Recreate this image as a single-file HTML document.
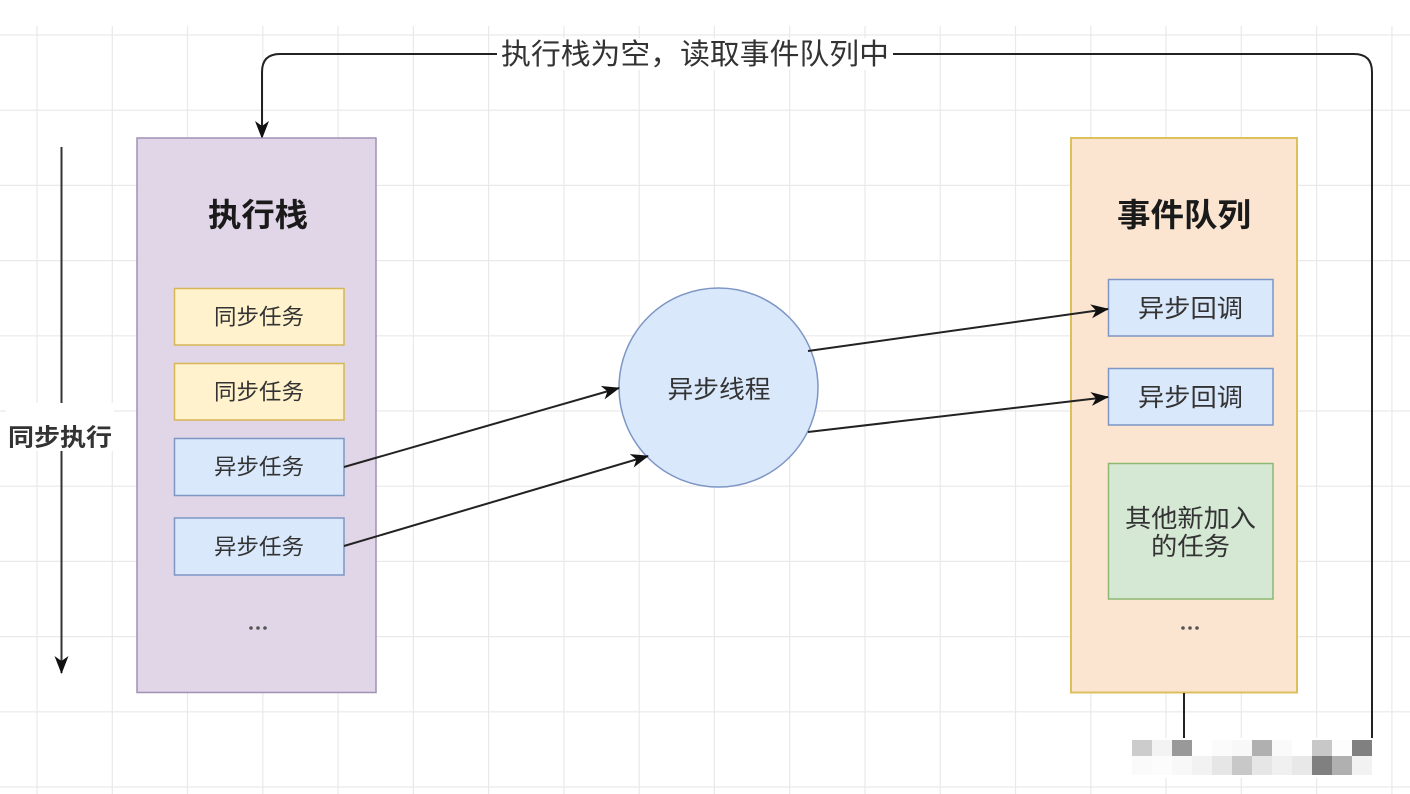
<!DOCTYPE html>
<html>
<head>
<meta charset="utf-8">
<style>
html,body{margin:0;padding:0;background:#fff;}
svg{display:block;}
text{font-family:"Liberation Sans","Noto Sans CJK SC","WenQuanYi Zen Hei",sans-serif;}
</style>
</head>
<body>
<svg width="1410" height="794" viewBox="0 0 1410 794" xmlns="http://www.w3.org/2000/svg">
<defs>
<marker id="ah" markerWidth="18" markerHeight="14" refX="17" refY="7" orient="auto" markerUnits="userSpaceOnUse">
<path d="M0,0 L18,7 L0,14 L5,7 Z" fill="#111"/>
</marker>
</defs>
<rect x="0" y="0" width="1410" height="794" fill="#fff"/>
<!-- grid -->
<g stroke="#e9e9e9" stroke-width="1.2">
<line x1="37" y1="26" x2="37" y2="794"/>
<line x1="112.3" y1="26" x2="112.3" y2="794"/>
<line x1="187.5" y1="26" x2="187.5" y2="794"/>
<line x1="262.8" y1="26" x2="262.8" y2="794"/>
<line x1="338.1" y1="26" x2="338.1" y2="794"/>
<line x1="413.4" y1="26" x2="413.4" y2="794"/>
<line x1="488.6" y1="26" x2="488.6" y2="794"/>
<line x1="563.9" y1="26" x2="563.9" y2="794"/>
<line x1="639.2" y1="26" x2="639.2" y2="794"/>
<line x1="714.4" y1="26" x2="714.4" y2="794"/>
<line x1="789.7" y1="26" x2="789.7" y2="794"/>
<line x1="865" y1="26" x2="865" y2="794"/>
<line x1="940.2" y1="26" x2="940.2" y2="794"/>
<line x1="1015.5" y1="26" x2="1015.5" y2="794"/>
<line x1="1090.8" y1="26" x2="1090.8" y2="794"/>
<line x1="1166" y1="26" x2="1166" y2="794"/>
<line x1="1241.3" y1="26" x2="1241.3" y2="794"/>
<line x1="1316.6" y1="26" x2="1316.6" y2="794"/>
<line x1="1391.9" y1="26" x2="1391.9" y2="794"/>
<line x1="0" y1="35" x2="1410" y2="35"/>
<line x1="0" y1="110.2" x2="1410" y2="110.2"/>
<line x1="0" y1="185.4" x2="1410" y2="185.4"/>
<line x1="0" y1="260.6" x2="1410" y2="260.6"/>
<line x1="0" y1="335.8" x2="1410" y2="335.8"/>
<line x1="0" y1="411" x2="1410" y2="411"/>
<line x1="0" y1="486.2" x2="1410" y2="486.2"/>
<line x1="0" y1="561.4" x2="1410" y2="561.4"/>
<line x1="0" y1="636.6" x2="1410" y2="636.6"/>
<line x1="0" y1="711.8" x2="1410" y2="711.8"/>
<line x1="0" y1="787" x2="1410" y2="787"/>
</g>

<!-- loop connector -->
<path d="M1372,745 L1372,72 Q1372,54 1354,54 L280,54 Q262,54 262,72 L262,138" fill="none" stroke="#222" stroke-width="2" marker-end="url(#ah)"/>
<rect x="497" y="38" width="396" height="32" fill="#fff"/>
<text x="695" y="55" font-size="29" fill="#333" text-anchor="middle" dominant-baseline="central" textLength="388" lengthAdjust="spacingAndGlyphs">执行栈为空，读取事件队列中</text>

<!-- sync execution arrow -->
<line x1="61.5" y1="147" x2="61.5" y2="673" stroke="#333" stroke-width="2" marker-end="url(#ah)"/>
<rect x="6" y="403" width="108" height="48" fill="#fff"/>
<text x="60" y="438" font-size="24" font-weight="bold" fill="#333" text-anchor="middle" dominant-baseline="central" textLength="104" lengthAdjust="spacingAndGlyphs">同步执行</text>

<!-- execution stack -->
<rect x="137" y="138" width="239" height="554.5" fill="#e0d6e7" stroke="#a291b6" stroke-width="1.5"/>
<text x="258" y="215" font-size="32" font-weight="bold" fill="#1a1a1a" text-anchor="middle" dominant-baseline="central" textLength="100" lengthAdjust="spacingAndGlyphs">执行栈</text>
<rect x="174.5" y="288.5" width="169.5" height="56.5" fill="#fff2cc" stroke="#d6b656" stroke-width="1.5"/>
<text x="259" y="317" font-size="22" fill="#333" text-anchor="middle" dominant-baseline="central" textLength="90" lengthAdjust="spacingAndGlyphs">同步任务</text>
<rect x="174.5" y="363.5" width="169.5" height="56.5" fill="#fff2cc" stroke="#d6b656" stroke-width="1.5"/>
<text x="259" y="392" font-size="22" fill="#333" text-anchor="middle" dominant-baseline="central" textLength="90" lengthAdjust="spacingAndGlyphs">同步任务</text>
<rect x="174.5" y="438.5" width="169.5" height="57" fill="#dae8fc" stroke="#7d96c4" stroke-width="1.5"/>
<text x="259" y="467" font-size="22" fill="#333" text-anchor="middle" dominant-baseline="central" textLength="90" lengthAdjust="spacingAndGlyphs">异步任务</text>
<rect x="174.5" y="518" width="169.5" height="57" fill="#dae8fc" stroke="#7d96c4" stroke-width="1.5"/>
<text x="259" y="547" font-size="22" fill="#333" text-anchor="middle" dominant-baseline="central" textLength="90" lengthAdjust="spacingAndGlyphs">异步任务</text>
<g fill="#555">
<circle cx="251" cy="628" r="1.8"/><circle cx="258" cy="628" r="1.8"/><circle cx="265" cy="628" r="1.8"/>
</g>

<!-- event queue -->
<rect x="1071" y="138" width="226" height="554.5" fill="#fbe5d0" stroke="#dcc05e" stroke-width="2"/>
<text x="1184" y="215" font-size="32" font-weight="bold" fill="#1a1a1a" text-anchor="middle" dominant-baseline="central" textLength="134" lengthAdjust="spacingAndGlyphs">事件队列</text>
<rect x="1108.5" y="279.5" width="164.5" height="56.5" fill="#dae8fc" stroke="#7d96c4" stroke-width="1.5"/>
<text x="1190.5" y="309" font-size="25" fill="#333" text-anchor="middle" dominant-baseline="central" textLength="105" lengthAdjust="spacingAndGlyphs">异步回调</text>
<rect x="1108.5" y="368.5" width="164.5" height="56.5" fill="#dae8fc" stroke="#7d96c4" stroke-width="1.5"/>
<text x="1190.5" y="398" font-size="25" fill="#333" text-anchor="middle" dominant-baseline="central" textLength="105" lengthAdjust="spacingAndGlyphs">异步回调</text>
<rect x="1108.5" y="463.5" width="164.5" height="135.5" fill="#d5e8d4" stroke="#8cb873" stroke-width="1.5"/>
<text x="1190.5" y="519" font-size="25" fill="#333" text-anchor="middle" dominant-baseline="central" textLength="131" lengthAdjust="spacingAndGlyphs">其他新加入</text>
<text x="1190.5" y="547" font-size="25" fill="#333" text-anchor="middle" dominant-baseline="central" textLength="79" lengthAdjust="spacingAndGlyphs">的任务</text>
<g fill="#555">
<circle cx="1183" cy="628" r="1.8"/><circle cx="1190" cy="628" r="1.8"/><circle cx="1197" cy="628" r="1.8"/>
</g>

<!-- async thread circle -->
<circle cx="718.5" cy="387.5" r="99.5" fill="#dae8fc" stroke="#7d96c4" stroke-width="1.5"/>
<text x="719" y="390" font-size="25" fill="#333" text-anchor="middle" dominant-baseline="central" textLength="103" lengthAdjust="spacingAndGlyphs">异步线程</text>

<!-- arrows -->
<line x1="344" y1="467" x2="619" y2="388" stroke="#222" stroke-width="2" marker-end="url(#ah)"/>
<line x1="344" y1="546" x2="648" y2="456" stroke="#222" stroke-width="2" marker-end="url(#ah)"/>
<line x1="808" y1="351" x2="1108" y2="309" stroke="#222" stroke-width="2" marker-end="url(#ah)"/>
<line x1="808" y1="432" x2="1108" y2="397" stroke="#222" stroke-width="2" marker-end="url(#ah)"/>

<!-- bottom line from queue -->
<line x1="1184" y1="693" x2="1184" y2="742" stroke="#222" stroke-width="2"/>

<!-- pixelated watermark -->
<g>
<rect x="1126" y="738" width="252" height="40" fill="#fff"/>
<rect x="1132" y="740" width="20" height="16" fill="#cccccc"/>
<rect x="1152" y="740" width="20" height="16" fill="#f3f3f3"/>
<rect x="1172" y="740" width="20" height="16" fill="#999999"/>
<rect x="1192" y="740" width="20" height="16" fill="#ffffff"/>
<rect x="1212" y="740" width="20" height="16" fill="#fbfbfb"/>
<rect x="1232" y="740" width="20" height="16" fill="#f8f8f8"/>
<rect x="1252" y="740" width="20" height="16" fill="#b0b0b0"/>
<rect x="1272" y="740" width="20" height="16" fill="#fafafa"/>
<rect x="1292" y="740" width="20" height="16" fill="#ffffff"/>
<rect x="1312" y="740" width="20" height="16" fill="#c8c8c8"/>
<rect x="1332" y="740" width="20" height="16" fill="#fdfdfd"/>
<rect x="1352" y="740" width="20" height="16" fill="#808080"/>
<rect x="1132" y="756" width="20" height="19" fill="#fafafa"/>
<rect x="1152" y="756" width="20" height="19" fill="#fcfcfc"/>
<rect x="1172" y="756" width="20" height="19" fill="#f8f8f8"/>
<rect x="1192" y="756" width="20" height="19" fill="#f2f2f2"/>
<rect x="1212" y="756" width="20" height="19" fill="#e6e6e6"/>
<rect x="1232" y="756" width="20" height="19" fill="#c8c8c8"/>
<rect x="1252" y="756" width="20" height="19" fill="#e6e6e6"/>
<rect x="1272" y="756" width="20" height="19" fill="#f0f0f0"/>
<rect x="1292" y="756" width="20" height="19" fill="#e8e8e8"/>
<rect x="1312" y="756" width="20" height="19" fill="#808080"/>
<rect x="1332" y="756" width="20" height="19" fill="#b0b0b0"/>
<rect x="1352" y="756" width="20" height="19" fill="#f2f2f2"/>
</g>
</svg>
</body>
</html>
